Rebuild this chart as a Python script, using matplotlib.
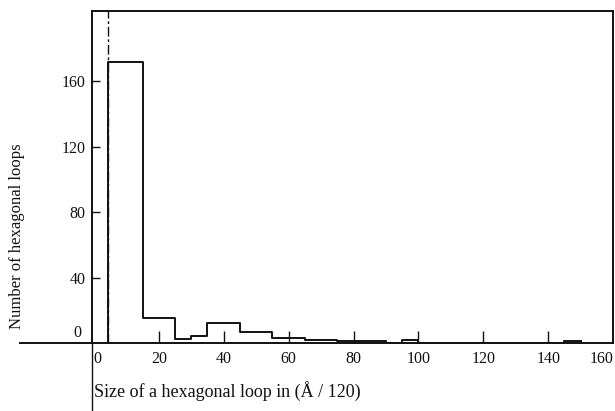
import matplotlib
matplotlib.use("Agg")
import matplotlib.pyplot as plt
from matplotlib.lines import Line2D

plt.rcParams['font.family'] = ['Liberation Serif', 'DejaVu Serif']

# bin edges (size, A/120) and loop counts
bin_edges = [4.5, 15, 25, 30, 35, 45, 55, 65, 75, 90, 95, 100, 145, 150]
counts = [172, 15, 2.4, 4.5, 12, 7, 3, 2, 1.2, 0, 2, 0, 1.3]
cutoff = 4.5

x_ticks = [0, 20, 40, 60, 80, 100, 120, 140, 160]
y_ticks = [40, 80, 120, 160]

fig = plt.figure(figsize=(6.15, 4.11), dpi=100)
ax = fig.add_axes([0.150, 0.1655, 0.847, 0.8077])

lw = 1.4
col = '#111111'

# histogram outline as steps, closed to the baseline at both ends
xs = [bin_edges[0]] + bin_edges + [bin_edges[-1]]
ys = [0] + counts + [counts[-1], 0]
ax.step(xs[:-1], ys[:-1], where='post', color=col, lw=lw)
ax.plot([bin_edges[-1], bin_edges[-1]], [counts[-1], 0], color=col, lw=lw)

# dashed marker line at the first bin edge
ax.axvline(cutoff, color=col, lw=1.0, ls=(0, (7, 2, 2, 2)))

ax.set_xlim(-0.5, 160)
ax.set_ylim(0, 203)

for s in ax.spines.values():
    s.set_linewidth(lw)
    s.set_color(col)

ax.set_xticks(x_ticks)
ax.set_xticklabels([str(v) for v in x_ticks])
ax.set_yticks(y_ticks)
ax.set_yticklabels([str(v) for v in y_ticks])
ax.tick_params(axis='x', direction='in', length=9, width=1.0, pad=6,
               labelsize=11.5, colors=col)
ax.tick_params(axis='y', direction='in', length=6, width=1.0, pad=5,
               labelsize=11.5, colors=col)
ax.get_xticklabels()[-1].set_ha('right')
ax.get_xticklabels()[0].set_ha('left')
# no tick marks at the two ends of the x axis
for t in (ax.xaxis.get_major_ticks()[0], ax.xaxis.get_major_ticks()[-1]):
    t.tick1line.set_visible(False)

# "0" label sits a bit above the baseline, no tick
ax.text(-0.02, 0.03, '0', transform=ax.transAxes, ha='right', va='center',
        fontsize=11.5, color=col)

# axis lines running past the frame
ax.add_line(Line2D([-0.138, 0], [0, 0], transform=ax.transAxes, color=col,
                   lw=lw, clip_on=False))
ax.add_line(Line2D([0, 0], [-0.21, 0], transform=ax.transAxes, color=col,
                   lw=1.0, clip_on=False))

fig.text(0.028, 0.426, 'Number of hexagonal loops', rotation=90,
         ha='center', va='center', fontsize=12, color=col)
fig.text(0.153, 0.049, 'Size of a hexagonal loop in (Å / 120)',
         ha='left', va='center', fontsize=13, color=col)

fig.savefig('out.png', dpi=100)
